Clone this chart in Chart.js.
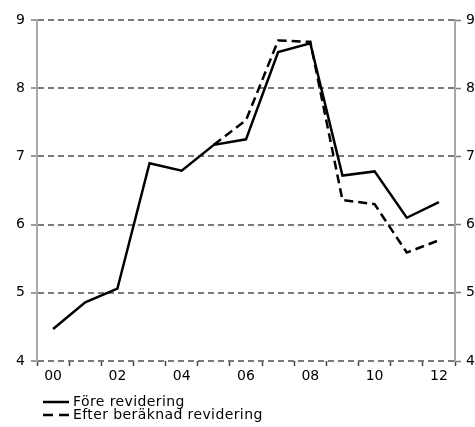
<!DOCTYPE html>
<html><head><meta charset="utf-8">
<script src="https://cdn.jsdelivr.net/npm/chart.js@4/dist/chart.umd.min.js"></script>
<style>
html,body{margin:0;padding:0;background:#fff;}
#wrap{position:relative;width:475px;height:427px;}
#c{position:absolute;left:0;top:0;}
#legend{position:absolute;left:43px;top:395px;font-family:"DejaVu Sans",Verdana,sans-serif;font-size:14px;color:#000;line-height:13px;letter-spacing:0.4px;}
.row{display:flex;align-items:center;height:13px;}
.row svg{margin-right:4px;}
</style></head>
<body><div id="wrap"><canvas id="c" width="475" height="427"></canvas>
<div id="legend"></div></div>
<script>
const categories = ['00','01','02','03','04','05','06','07','08','09','10','11','12'];
const foreRevidering = [4.47,4.86,5.06,6.90,6.79,7.17,7.25,8.53,8.66,6.72,6.78,6.10,6.33];
const efterRevidering = [null,null,null,null,null,7.17,7.53,8.70,8.68,6.36,6.30,5.59,5.77];
const seriesNames = ['Före revidering','Efter beräknad revidering'];
const yMin = 4, yMax = 9, yStep = 1;

const font = {family:'"DejaVu Sans", Verdana, sans-serif', size:14};
const gridColor = '#7a7a7a';
const axisColor = '#a8a8a8';

const datasets = [
  {label:seriesNames[0], data:foreRevidering, borderColor:'#000', borderWidth:2.5, pointRadius:0, tension:0, fill:false, yAxisID:'y'},
  {label:seriesNames[1], data:efterRevidering, borderColor:'#000', borderWidth:2.5, borderDash:[9,5], pointRadius:0, tension:0, fill:false, yAxisID:'y'}
];

new Chart(document.getElementById('c'), {
  type:'line',
  data:{labels:categories, datasets},
  options:{
    responsive:false, animation:false,
    layout:{padding:{top:20,left:0,right:0,bottom:36}},
    plugins:{legend:{display:false}, tooltip:{enabled:false}},
    scales:{
      x:{
        offset:true,
        grid:{display:true, offset:true, drawOnChartArea:false, drawTicks:true, tickLength:5, tickColor:'#444', tickWidth:1.5},
        border:{display:false},
        ticks:{autoSkip:false, maxRotation:0, minRotation:0, padding:2, color:'#000', font,
          callback:(v,i)=> i%2===0 ? categories[i] : ''},
        afterFit:(s)=>{s.height=30;}
      },
      y:{
        position:'left', min:yMin, max:yMax,
        ticks:{stepSize:yStep, color:'#000', font, padding:6},
        grid:{color:gridColor, lineWidth:2, drawTicks:true, tickLength:6, tickColor:gridColor, tickBorderDash:[], tickWidth:1.5},
        border:{display:true, color:axisColor, width:2, dash:[6,4]},
        afterFit:(s)=>{s.width=37;}
      },
      y2:{
        position:'right', min:yMin, max:yMax,
        ticks:{stepSize:yStep, color:'#000', font, padding:5},
        grid:{drawOnChartArea:false, drawTicks:true, tickLength:6, tickColor:gridColor, tickWidth:1.5},
        border:{display:true, color:axisColor, width:2},
        afterFit:(s)=>{s.width=20;}
      }
    }
  }
});

const lg = document.getElementById('legend');
datasets.forEach(d=>{
  const row = document.createElement('div'); row.className='row';
  const dash = d.borderDash ? 'stroke-dasharray="10,6"' : '';
  row.innerHTML = '<svg width="26" height="4"><line x1="0" y1="2" x2="26" y2="2" stroke="#000" stroke-width="2.5" '+dash+'/></svg><span>'+d.label+'</span>';
  lg.appendChild(row);
});
</script></body></html>
